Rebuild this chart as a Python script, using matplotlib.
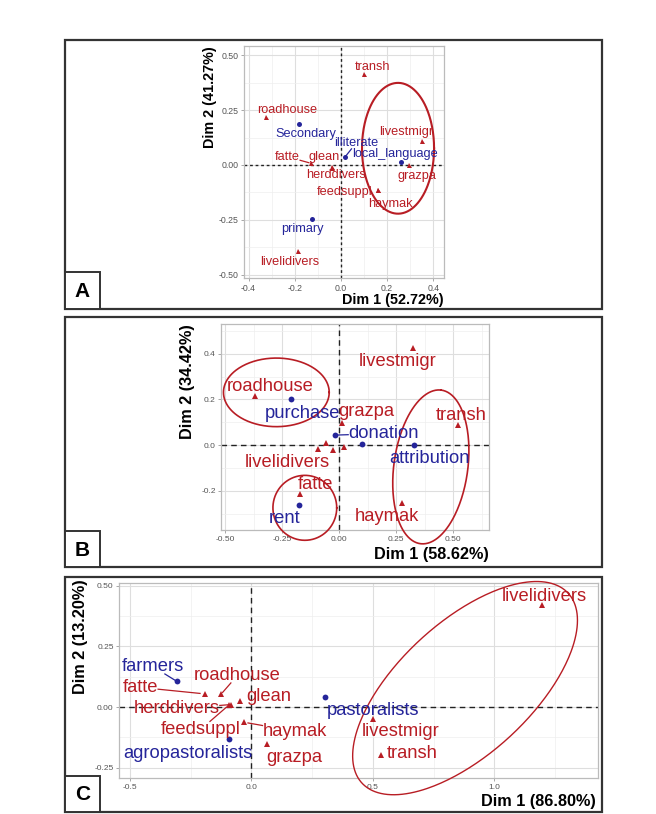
import numpy as np
import matplotlib
matplotlib.use('Agg')
import matplotlib.pyplot as plt
import matplotlib.patches as mpatches

plt.rcParams['font.family'] = ['Liberation Sans', 'DejaVu Sans']
plt.rcParams['axes.unicode_minus'] = False

RED = '#B81D24'
BLUE = '#25259A'

# ---------------- panel A ----------------
a_var_names = ['transh', 'roadhouse', 'livestmigr', 'fatte', 'glean', 'herddivers',
               'feedsuppl', 'haymak', 'grazpa', 'livelidivers']
a_var_x = [0.101, -0.325, 0.350, -0.131, -0.040, -0.038, 0.160, 0.162, 0.296, -0.185]
a_var_y = [0.416, 0.218, 0.110, 0.008, -0.009, -0.012, -0.113, -0.116, 0.002, -0.393]
a_var_lab_x = [0.136, -0.231, 0.281, -0.231, -0.075, -0.020, 0.014, 0.215, 0.327, -0.223]
a_var_lab_y = [0.448, 0.252, 0.152, 0.037, 0.037, -0.048, -0.121, -0.176, -0.051, -0.442]
a_sup_names = ['Secondary', 'illiterate', 'local_language', 'primary']
a_sup_x = [-0.180, 0.018, 0.258, -0.127]
a_sup_y = [0.186, 0.037, 0.014, -0.245]
a_sup_lab_x = [-0.150, 0.064, 0.235, -0.165]
a_sup_lab_y = [0.140, 0.098, 0.049, -0.293]
a_links = ['fatte', 'illiterate']
# center x, center y, semi-axis 1 (dx, dy), semi-axis 2 (dx, dy)
a_ellipses = [(0.247, 0.076, 0.156, 0.0, 0.0, 0.298)]
a_xticks = [-0.4, -0.2, 0.0, 0.2, 0.4]
a_xticklabels = ['-0.4', '-0.2', '0.0', '0.2', '0.4']
a_yticks = [-0.5, -0.25, 0.0, 0.25, 0.5]
a_yticklabels = ['-0.50', '-0.25', '0.00', '0.25', '0.50']

# ---------------- panel B ----------------
b_var_names = ['livestmigr', 'roadhouse', 'grazpa', 'transh', 'livelidivers', 'glean',
               'herddivers', 'feedsuppl', 'fatte', 'haymak']
b_var_x = [0.323, -0.370, 0.012, 0.523, -0.092, -0.056, -0.029, 0.023, -0.173, 0.277]
b_var_y = [0.423, 0.215, 0.098, 0.088, -0.018, 0.010, -0.019, -0.010, -0.213, -0.255]
b_var_show = [True, True, True, True, True, False, False, False, True, True]
b_var_lab_x = [0.255, -0.302, 0.118, 0.535, -0.230, 0, 0, 0, -0.106, 0.209]
b_var_lab_y = [0.365, 0.258, 0.146, 0.131, -0.077, 0, 0, 0, -0.171, -0.314]
b_sup_names = ['purchase', 'donation', '', 'attribution', 'rent']
b_sup_x = [-0.212, -0.018, 0.100, 0.327, -0.177]
b_sup_y = [0.200, 0.044, 0.007, -0.001, -0.263]
b_sup_lab_x = [-0.162, 0.194, 0, 0.395, -0.241]
b_sup_lab_y = [0.139, 0.051, 0, -0.058, -0.321]
b_links = ['donation']
b_ellipses = [(-0.276, 0.231, 0.232, 0.0, 0.0, 0.150),
              (-0.151, -0.274, 0.140, 0.0, 0.0, 0.142),
              (0.402, -0.095, 0.045, 0.336, 0.161, -0.020)]
b_xticks = [-0.5, -0.25, 0.0, 0.25, 0.5]
b_xticklabels = ['-0.50', '-0.25', '0.00', '0.25', '0.50']
b_yticks = [-0.2, 0.0, 0.2, 0.4]
b_yticklabels = ['-0.2', '0.0', '0.2', '0.4']

# ---------------- panel C ----------------
c_var_names = ['livelidivers', 'roadhouse', 'fatte', 'glean', 'herddivers', 'feedsuppl',
               'haymak', 'grazpa', 'livestmigr', 'transh']
c_var_x = [1.197, -0.124, -0.190, -0.047, -0.086, -0.094, -0.029, 0.066, 0.499, 0.534]
c_var_y = [0.420, 0.054, 0.054, 0.023, 0.010, 0.007, -0.063, -0.153, -0.048, -0.197]
c_var_lab_x = [1.207, -0.057, -0.457, 0.071, -0.307, -0.207, 0.178, 0.178, 0.613, 0.663]
c_var_lab_y = [0.457, 0.131, 0.081, 0.044, -0.007, -0.091, -0.100, -0.208, -0.103, -0.190]
c_sup_names = ['farmers', 'pastoralists', 'agropastoralists']
c_sup_x = [-0.307, 0.303, -0.093]
c_sup_y = [0.106, 0.040, -0.131]
c_sup_lab_x = [-0.407, 0.500, -0.262]
c_sup_lab_y = [0.168, -0.014, -0.190]
c_links = ['farmers', 'roadhouse', 'fatte', 'herddivers', 'feedsuppl', 'haymak']
c_ellipses = [(0.879, 0.078, 0.426, 0.390, -0.180, 0.204)]
c_xticks = [-0.5, 0.0, 0.5, 1.0]
c_xticklabels = ['-0.5', '0.0', '0.5', '1.0']
c_yticks = [-0.25, 0.0, 0.25, 0.5]
c_yticklabels = ['-0.25', '0.00', '0.25', '0.50']

W, H = 656, 814
fig = plt.figure(figsize=(W / 100, H / 100), dpi=100)


def fx(px):
    return px / W


def fy(py):
    return 1 - py / H


def axes_at(left, top, right, bottom):
    return fig.add_axes([fx(left), fy(bottom), fx(right) - fx(left), (bottom - top) / H])


def panel_box(top, bottom, letter, letter_top):
    fig.patches.append(mpatches.Rectangle((fx(65), fy(bottom)), fx(602) - fx(65), (bottom - top) / H,
                                          transform=fig.transFigure, fill=False,
                                          edgecolor='#333333', lw=1.6, zorder=0))
    fig.patches.append(mpatches.Rectangle((fx(65), fy(bottom)), fx(100) - fx(65), (bottom - letter_top) / H,
                                          transform=fig.transFigure, facecolor='white',
                                          edgecolor='#333333', lw=1.4, zorder=5))
    fig.text(fx(82.5), fy((bottom + letter_top) / 2 + 1), letter, ha='center', va='center',
             fontsize=15, fontweight='bold', zorder=6)


def style_axes(ax, xlim, ylim, xticks, xticklabels, yticks, yticklabels, tick_size, dash):
    ax.set_xticks(xticks)
    ax.set_xticklabels(xticklabels)
    ax.set_yticks(yticks)
    ax.set_yticklabels(yticklabels)
    xs = np.diff(xticks)[0] / 2
    ys = np.diff(yticks)[0] / 2
    ax.set_xticks(np.arange(xticks[0] - xs, xlim[1], 2 * xs), minor=True)
    ax.set_yticks(np.arange(yticks[0] - ys, ylim[1], 2 * ys), minor=True)
    # limits after the ticks, since set_xticks may widen the view
    ax.set_xlim(*xlim)
    ax.set_ylim(*ylim)
    ax.grid(which='major', color='#DEDEDE', lw=0.8)
    ax.grid(which='minor', color='#EEEEEE', lw=0.5)
    ax.set_axisbelow(True)
    ax.tick_params(which='major', length=2.5, width=0.6, color='#999999', pad=1.5,
                   labelsize=tick_size, labelcolor='#555555')
    ax.tick_params(which='minor', length=0)
    for s in ax.spines.values():
        s.set_color('#BBBBBB')
        s.set_linewidth(0.9)
    ax.axhline(0, color='#222222', lw=1.0, ls=(0, dash), zorder=1)
    ax.axvline(0, color='#222222', lw=1.0, ls=(0, dash), zorder=1)


def draw_ellipses(ax, ellipses, lw):
    t = np.linspace(0, 2 * np.pi, 300)
    for cx, cy, ax1, ay1, bx1, by1 in ellipses:
        ex = cx + ax1 * np.cos(t) + bx1 * np.sin(t)
        ey = cy + ay1 * np.cos(t) + by1 * np.sin(t)
        ax.plot(ex, ey, color=RED, lw=lw, clip_on=False, zorder=3)


def draw_points(ax, xs, ys, names, lxs, lys, color, marker, ms, fs, texts, show=None):
    ax.plot(xs, ys, ls='none', marker=marker, color=color, ms=ms, mew=0, zorder=4)
    for i, name in enumerate(names):
        if show is not None and not show[i]:
            continue
        if not name:
            continue
        t = ax.text(lxs[i], lys[i], name, color=color, fontsize=fs, ha='center', va='center', zorder=5)
        texts[name] = (t, xs[i], ys[i], color)


def draw_links(ax, texts, links):
    r = fig.canvas.get_renderer()
    inv = ax.transData.inverted()
    for name in links:
        t, px, py, color = texts[name]
        bb = t.get_window_extent(r).expanded(1.0, 0.9)
        p = ax.transData.transform((px, py))
        c = np.array([(bb.x0 + bb.x1) / 2, (bb.y0 + bb.y1) / 2])
        d = c - p
        tin = 0.0
        for k, (lo, hi) in enumerate([(bb.x0, bb.x1), (bb.y0, bb.y1)]):
            if abs(d[k]) < 1e-9:
                continue
            t1 = (lo - p[k]) / d[k]
            t2 = (hi - p[k]) / d[k]
            tin = max(tin, min(t1, t2))
        if tin <= 0.05:
            continue
        e = p + d * tin
        s = p + d * min(0.08, tin * 0.2)
        ds = inv.transform(s)
        de = inv.transform(e)
        ax.plot([ds[0], de[0]], [ds[1], de[1]], color=color, lw=0.9, zorder=4)


# ---------------- panel A ----------------
panel_box(40.5, 309.3, 'A', 272.5)
axA = axes_at(244.2, 46, 444, 278)
style_axes(axA, (-0.419, 0.446), (-0.515, 0.542), a_xticks, a_xticklabels,
           a_yticks, a_yticklabels, 6.3, (2, 2))
draw_ellipses(axA, a_ellipses, 1.5)
textsA = {}
draw_points(axA, a_var_x, a_var_y, a_var_names, a_var_lab_x, a_var_lab_y, RED, '^', 3.6, 9.2, textsA)
draw_points(axA, a_sup_x, a_sup_y, a_sup_names, a_sup_lab_x, a_sup_lab_y, BLUE, 'o', 3.6, 9.2, textsA)
axA.text(1.0, -0.095, 'Dim 1 (52.72%)', transform=axA.transAxes, ha='right', va='center',
         fontsize=10.4, fontweight='bold')
axA.text(-0.169, 1.0, 'Dim 2 (41.27%)', transform=axA.transAxes, ha='center', va='top',
         rotation=90, fontsize=10.4, fontweight='bold')

# ---------------- panel B ----------------
panel_box(317, 567, 'B', 531)
axB = axes_at(221.2, 324, 488.7, 530)
style_axes(axB, (-0.518, 0.656), (-0.371, 0.53), b_xticks, b_xticklabels,
           b_yticks, b_yticklabels, 6.0, (4, 3))
draw_ellipses(axB, b_ellipses, 1.2)
textsB = {}
draw_points(axB, b_var_x, b_var_y, b_var_names, b_var_lab_x, b_var_lab_y, RED, '^', 4.2, 13.2,
            textsB, show=b_var_show)
draw_points(axB, b_sup_x, b_sup_y, b_sup_names, b_sup_lab_x, b_sup_lab_y, BLUE, 'o', 4.2, 13.2, textsB)
axB.text(1.0, -0.121, 'Dim 1 (58.62%)', transform=axB.transAxes, ha='right', va='center',
         fontsize=11.7, fontweight='bold')
axB.text(-0.126, 1.0, 'Dim 2 (34.42%)', transform=axB.transAxes, ha='center', va='top',
         rotation=90, fontsize=11.7, fontweight='bold')

# ---------------- panel C ----------------
panel_box(577, 812, 'C', 776)
axC = axes_at(119.2, 583, 598, 778)
style_axes(axC, (-0.544, 1.426), (-0.293, 0.512), c_xticks, c_xticklabels,
           c_yticks, c_yticklabels, 6.0, (4, 3))
draw_ellipses(axC, c_ellipses, 1.0)
textsC = {}
draw_points(axC, c_var_x, c_var_y, c_var_names, c_var_lab_x, c_var_lab_y, RED, '^', 4.2, 13.2, textsC)
draw_points(axC, c_sup_x, c_sup_y, c_sup_names, c_sup_lab_x, c_sup_lab_y, BLUE, 'o', 4.2, 13.2, textsC)
axC.text(0.996, -0.123, 'Dim 1 (86.80%)', transform=axC.transAxes, ha='right', va='center',
         fontsize=11.7, fontweight='bold')
axC.text(-0.080, 1.02, 'Dim 2 (13.20%)', transform=axC.transAxes, ha='center', va='top',
         rotation=90, fontsize=11.7, fontweight='bold')

fig.canvas.draw()
draw_links(axA, textsA, a_links)
draw_links(axB, textsB, b_links)
draw_links(axC, textsC, c_links)

fig.savefig('out.png', dpi=100)
